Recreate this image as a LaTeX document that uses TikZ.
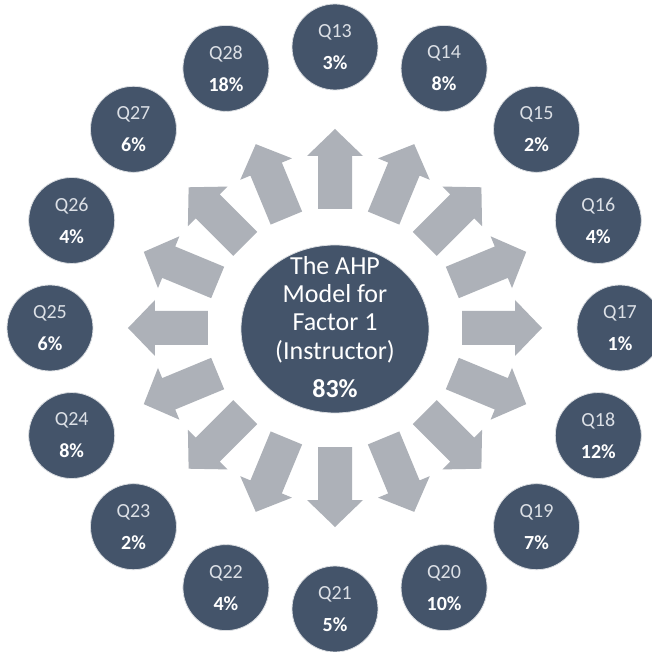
\documentclass[tikz,border=0pt]{standalone}
\usepackage{fontspec}
\setmainfont{Carlito}
\usetikzlibrary{shapes.geometric}
\definecolor{navy}{HTML}{44546A}
\definecolor{arrgrey}{HTML}{ADB1B8}
\definecolor{qtxt}{HTML}{DCE0E6}
\begin{document}
\begin{tikzpicture}[x=1pt,y=1pt,
  qc/.style={circle,fill=navy,draw=white!80!navy,line width=0.8pt,minimum size=86pt,inner sep=0pt,align=center,font=\fontsize{20}{24}\selectfont,text=qtxt},
  ctext/.style={anchor=base,text=white,font=\fontsize{26}{30}\selectfont},
  arrowshape/.style={fill=arrgrey}]
\useasboundingbox[fill=white] (-335,-324) rectangle (316,328);
% arrows
\foreach \a in {0,22.5,...,337.5}{
  \fill[arrowshape,shift={(\a:127pt and 119pt)},rotate=\a]
    (0,-17) -- (53,-17) -- (53,-28) -- (80,0) -- (53,28) -- (53,17) -- (0,17) -- cycle;
}
% center
\node[ellipse,fill=navy,draw=white!80!navy,line width=0.8pt,minimum width=188pt,minimum height=168pt,inner sep=0pt] (center) at (0,-1) {};
\node[ctext] (l1) at (0,53) {The AHP};
\node[ctext] (l2) at (0,25) {Model for};
\node[ctext] (l3) at (0,-3) {Factor 1};
\node[ctext] (l4) at (0,-32) {(Instructor)};
\node[ctext] (l5) at (0,-70) {\textbf{83\%}};
% outer circles
\foreach \n/\a/\p in {13/90/3,14/67.5/8,15/45/2,16/22.5/4,17/0/1,18/-22.5/12,19/-45/7,20/-67.5/10,21/-90/5,22/-112.5/4,23/-135/2,24/-157.5/8,25/180/6,26/157.5/4,27/135/6,28/112.5/18}{
  \node[qc] (q\n) at (\a:285pt and 281pt) {Q\n\\[8pt]{\color{white}\textbf{\p\%}}};
}
\end{tikzpicture}
\end{document}
